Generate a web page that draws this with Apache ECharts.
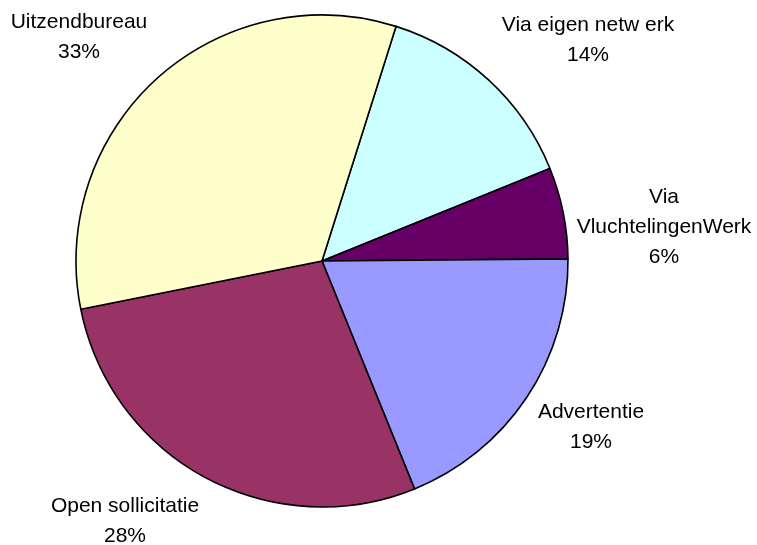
<!DOCTYPE html>
<html>
<head>
<meta charset="utf-8">
<script src="https://cdn.jsdelivr.net/npm/echarts@6/dist/echarts.min.js"></script>
<style>
  html, body { margin: 0; padding: 0; background: #fff; }
  #chart { width: 757px; height: 545px; }
</style>
</head>
<body>
<div id="chart"></div>
<script>
// volgorde met de klok mee, beginnend bij de lijn rechts van 12 uur
const categories = ['Via eigen netw erk', 'Via\nVluchtelingenWerk', 'Advertentie', 'Open sollicitatie', 'Uitzendbureau']
const values = [14, 6, 19, 28, 33]
const colors = ['#CCFFFF', '#660066', '#9999FF', '#993366', '#FFFFCC']
// plek van de labels (midden van het tekstblok)
const labelPos = [[588, 40], [664, 227], [591, 427], [125, 521], [79, 37]]

let myChart = echarts.init(document.getElementById('chart'))

let option = {
  animation: false,
  series: [{
    name: 'Werving',
    type: 'pie',
    center: [322, 261],
    radius: 246,
    startAngle: 72.5,
    clockwise: true,
    data: categories.map(function (c, i) {
      return {name: c, value: values[i], itemStyle: {color: colors[i]}}
    }),
    itemStyle: {
      borderColor: '#000',
      borderWidth: 1.6
    },
    label: {
      show: true,
      position: 'outside',
      formatter: '{b}\n{d}%',
      color: '#000',
      fontFamily: 'Liberation Sans, Arial, sans-serif',
      fontSize: 21,
      lineHeight: 30,
      align: 'center',
      overflow: 'none',
      width: 300
    },
    labelLine: {show: false},
    labelLayout: function (params) {
      let p = labelPos[params.dataIndex]
      return {x: p[0], y: p[1], align: 'center', verticalAlign: 'middle'}
    },
    emphasis: {disabled: true}
  }]
}

myChart.setOption(option)
</script>
</body>
</html>
